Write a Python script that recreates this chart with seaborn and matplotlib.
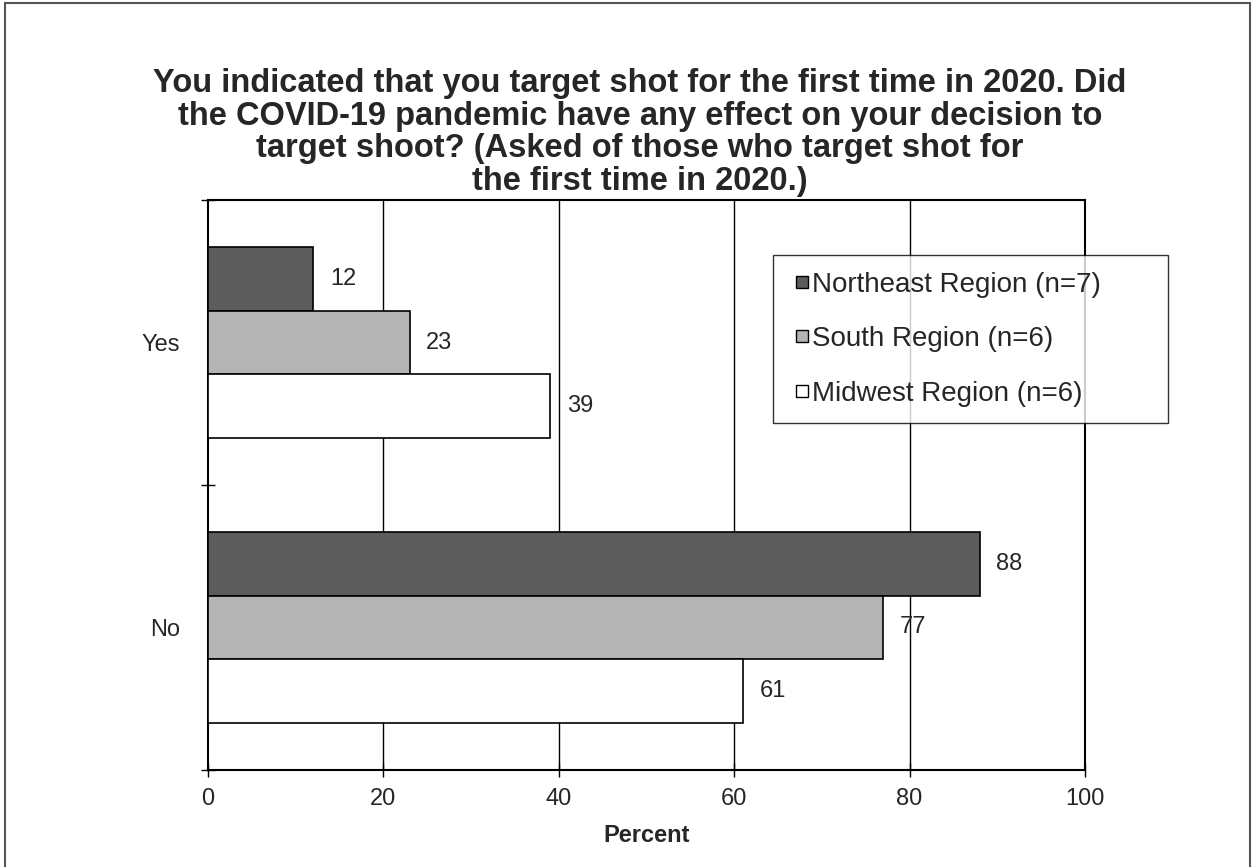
import numpy as np
import pandas as pd
import matplotlib
matplotlib.use('Agg')
import matplotlib.pyplot as plt
from matplotlib.lines import Line2D
import seaborn as sns

## ============================

answers = ['Yes', 'No']
regions = ['Northeast Region (n=7)', 'South Region (n=6)', 'Midwest Region (n=6)']
northeast = [12, 88]
south = [23, 77]
midwest = [39, 61]
xticks = [0, 20, 40, 60, 80, 100]

title = ('You indicated that you target shot for the first time in 2020. Did\n'
		'the COVID-19 pandemic have any effect on your decision to\n'
		'target shoot? (Asked of those who target shot for\n'
		'the first time in 2020.)')

df = pd.DataFrame({
	'answer': answers * 3,
	'region': [regions[0]] * 2 + [regions[1]] * 2 + [regions[2]] * 2,
	'percent': northeast + south + midwest,
})

## ============================

sns.set_style('white')
plt.rcParams['font.family'] = ['Liberation Sans', 'DejaVu Sans']

fig = plt.figure(figsize=(12.55, 8.67), dpi=100)
ax = fig.add_axes([0.1657, 0.1119, 0.6988, 0.6574])

palette = {regions[0]: '#5c5c5c', regions[1]: '#b4b4b4', regions[2]: '#ffffff'}
sns.barplot(ax=ax, data=df, x='percent', y='answer', hue='region', order=answers,
		hue_order=regions, palette=palette, width=0.667, edgecolor='black',
		linewidth=1.2, saturation=1, errorbar=None, zorder=3, legend=False)

for cont in ax.containers:
	ax.bar_label(cont, fmt='%d', padding=12, fontsize=17)

ax.set_xlim(0, 100)
ax.set_ylim(1.5, -0.5)
ax.set_xticks(xticks)
ax.set_xticklabels([str(t) for t in xticks], fontsize=17)
ax.tick_params(axis='x', direction='inout', length=10, width=1, color='black', pad=8, bottom=True)

ax.set_yticks([0, 1])
ax.set_yticklabels(answers, fontsize=17)
ax.tick_params(axis='y', which='major', length=0, pad=20)
ax.set_yticks([-0.5, 0.5, 1.5], minor=True)
ax.tick_params(axis='y', which='minor', direction='inout', length=10, width=1, color='black', left=True)

for v in xticks[1:-1]:
	ax.axvline(v, color='black', linewidth=1, zorder=1)

for s in ax.spines.values():
	s.set_visible(True)
	s.set_color('black')
	s.set_linewidth(1.5)

ax.set_xlabel('Percent', fontsize=17, fontweight='bold', labelpad=10)
ax.set_ylabel('')

# legend with small square markers, box stretched like the original
handles = [Line2D([], [], marker='s', linestyle='none', markersize=8,
		markerfacecolor=palette[r], markeredgecolor='black', markeredgewidth=1) for r in regions]
leg = fig.legend(handles, regions, loc='upper left', bbox_to_anchor=(0.616, 0.516, 0.3147, 0.19),
		mode='expand', fontsize=20, frameon=True, fancybox=False, edgecolor='black',
		handlelength=0.85, handletextpad=-0.05, labelspacing=1.03,
		borderpad=0.6, borderaxespad=0)
leg.get_frame().set_linewidth(1)

fig.text(0.51, 0.922, title, ha='center', va='top', fontsize=23.5, fontweight='bold',
		linespacing=1.08)

fig.patches.append(plt.Rectangle((0.004, -0.01), 0.992, 1.006, transform=fig.transFigure,
		fill=False, edgecolor='#555555', linewidth=1.5))

fig.savefig('out.png', dpi=100)
